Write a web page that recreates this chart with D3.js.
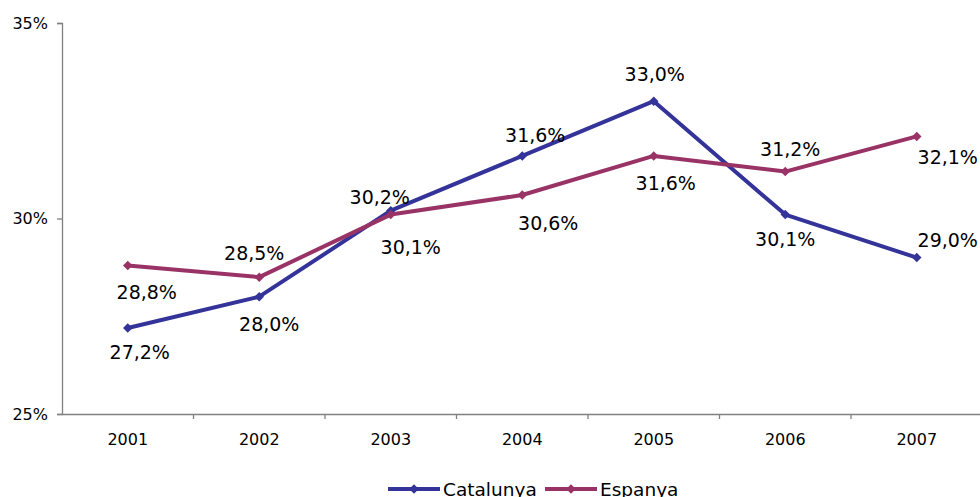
<!DOCTYPE html>
<html><head><meta charset="utf-8">
<script src="https://cdn.jsdelivr.net/npm/d3@7"></script>
<style>body{margin:0;background:#fff}svg{display:block;font-family:Verdana,"DejaVu Sans",sans-serif}</style>
</head><body><svg id="c" width="980" height="497"></svg>
<script>
const years = ["2001","2002","2003","2004","2005","2006","2007"];
const catalunya = [27.2, 28.0, 30.2, 31.6, 33.0, 30.1, 29.0];
const espanya = [28.8, 28.5, 30.1, 30.6, 31.6, 31.2, 32.1];
const yTicks = [25, 30, 35];
const seriesNames = ["Catalunya", "Espanya"];
const seriesColors = ["#333399", "#993366"];

// label placement (layout only): [dx, dy] relative to point
const labelPlacement = [
  [[12,24],[10,27],[-11,-14],[13,-21],[1,-27],[0,25],[31,-17]],
  [[19,27],[-5,-24],[20,33],[26,28],[12,27],[5,-22],[31,21]]
];

const svg = d3.select("#c");
const m = {l:62, t:23, r:982.5, b:414};
const x = d3.scaleBand().domain(years).range([m.l, m.r]).padding(0);
const y = d3.scaleLinear().domain([25,35]).range([m.b, m.t]);
const axisColor = "#808080";
const FF = "Verdana,'DejaVu Sans',sans-serif";

// y axis
const ya = svg.append("g").attr("transform",`translate(${m.l},0)`)
  .call(d3.axisLeft(y).tickValues(yTicks).tickSize(5).tickPadding(9).tickFormat(d=>d+"%"));
ya.attr("font-size",16).attr("font-family",FF);
ya.select(".domain").attr("stroke",axisColor).attr("stroke-width",1.3);
ya.selectAll(".tick line").attr("stroke",axisColor).attr("stroke-width",1.3);
ya.selectAll("text").attr("fill","#000");

// x axis
const xa = svg.append("g").attr("transform",`translate(0,${m.b})`)
  .call(d3.axisBottom(x).tickSize(0).tickPadding(20));
xa.attr("font-size",16).attr("font-family",FF);
xa.select(".domain").attr("stroke",axisColor).attr("stroke-width",1.3);
xa.selectAll("text").attr("fill","#000");
svg.append("g").selectAll("line").data(years.slice(1)).join("line")
  .attr("x1",d=>x(d)).attr("x2",d=>x(d)).attr("y1",m.b).attr("y2",m.b+5)
  .attr("stroke",axisColor).attr("stroke-width",1.3);

const series = [catalunya, espanya];
const line = d3.line().x((d,i)=>x(years[i])+x.bandwidth()/2).y(d=>y(d));
const marker = d3.symbol().type(d3.symbolSquare).size(45);
const fmt = v => v.toFixed(1).replace(".",",")+"%";

series.forEach((vals, si) => {
  const g = svg.append("g");
  g.append("path").datum(vals).attr("d",line).attr("fill","none")
    .attr("stroke",seriesColors[si]).attr("stroke-width",4).attr("stroke-linejoin","round");
  g.selectAll("path.m").data(vals).join("path").attr("class","m")
    .attr("d",marker)
    .attr("transform",(d,i)=>`translate(${x(years[i])+x.bandwidth()/2},${y(d)}) rotate(45)`)
    .attr("fill",seriesColors[si]);
});
series.forEach((vals, si) => {
  svg.append("g").selectAll("text").data(vals).join("text")
    .attr("x",(d,i)=>x(years[i])+x.bandwidth()/2+labelPlacement[si][i][0])
    .attr("y",(d,i)=>y(d)+labelPlacement[si][i][1])
    .attr("dy","0.36em").attr("text-anchor","middle")
    .attr("font-size",19).attr("fill","#000").text(d=>fmt(d));
});

// legend
const leg = svg.append("g");
const legX = [388, 545];
seriesNames.forEach((n, i) => {
  const lg = leg.append("g").attr("transform",`translate(${legX[i]},489)`);
  lg.append("line").attr("x1",0).attr("x2",52).attr("stroke",seriesColors[i]).attr("stroke-width",4);
  lg.append("path").attr("d",marker).attr("transform","translate(26,0) rotate(45)").attr("fill",seriesColors[i]);
  lg.append("text").attr("x",55).attr("dy","0.36em").attr("font-size",18.5).attr("fill","#000").text(n);
});
</script></body></html>
